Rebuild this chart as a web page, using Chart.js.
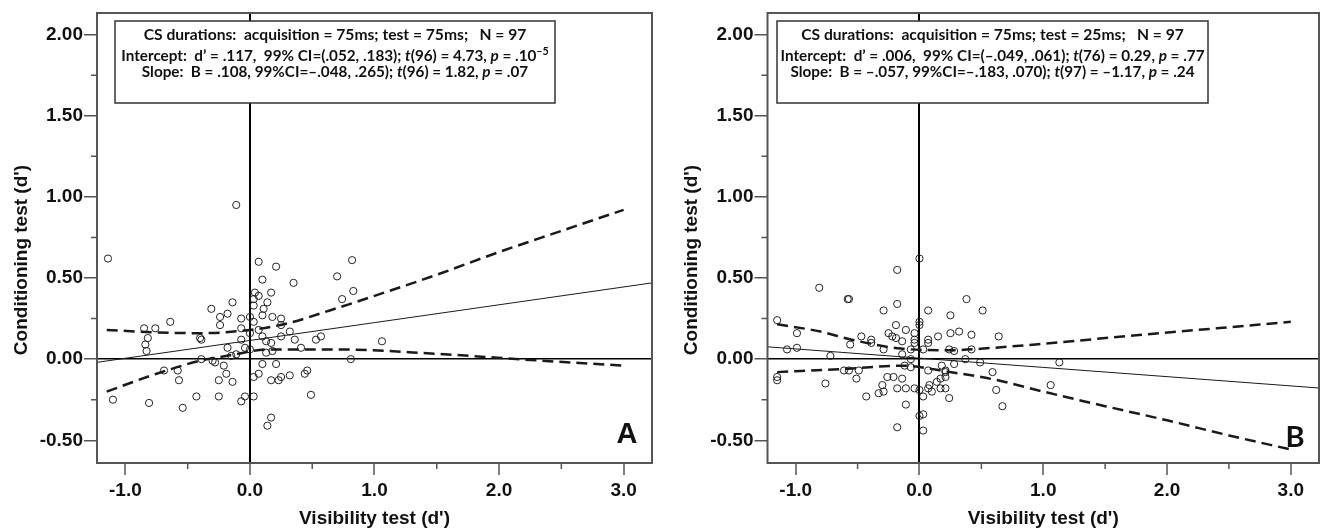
<!DOCTYPE html>
<html>
<head>
<meta charset="utf-8">
<script src="https://cdn.jsdelivr.net/npm/chart.js@4.4.1/dist/chart.umd.min.js"></script>
<style>
  html, body { margin: 0; padding: 0; background: #fff; }
  .panel { position: absolute; top: 0; width: 662px; height: 531px; }
  #panelA { left: 0; }
  #panelB { left: 662px; }
</style>
</head>
<body>
<div class="panel" id="panelA"><canvas id="chartA" width="662" height="531"></canvas></div>
<div class="panel" id="panelB"><canvas id="chartB" width="662" height="531"></canvas></div>
<script>
// axis ticks (major get labels, minor are short marks only)
const xMajor = [-1, 0, 1, 2, 3];
const xMinor = [-0.5, 0.5, 1.5, 2.5];
const yMajor = [-0.5, 0, 0.5, 1, 1.5, 2];
const yMinor = [-0.25, 0.25, 0.75, 1.25, 1.75];
const xTitle = "Visibility test (d')";
const yTitle = "Conditioning test (d')";

// panel A: CS 75ms / test 75ms
const pointsA = [
  [-1.14, 0.62], [0.07, 0.60], [0.21, 0.57], [0.70, 0.51], [0.10, 0.49], [0.35, 0.47], [0.04, 0.41],
  [0.17, 0.41], [0.07, 0.39], [0.03, 0.37], [0.14, 0.35], [-0.14, 0.35], [0.03, 0.33], [-0.31, 0.31],
  [0.11, 0.31], [-0.18, 0.28], [-0.24, 0.26], [0.00, 0.26], [0.18, 0.26], [-0.07, 0.25], [0.10, 0.27],
  [0.25, 0.25], [0.03, 0.23], [-0.64, 0.23], [-0.24, 0.21], [0.25, 0.21], [-0.85, 0.19], [-0.76, 0.19],
  [-0.07, 0.19], [0.07, 0.18], [0.32, 0.17], [0.00, 0.16], [0.10, 0.14], [-0.82, 0.13], [-0.40, 0.13],
  [-0.39, 0.12], [0.25, 0.14], [-0.07, 0.12], [0.36, 0.12], [0.13, 0.11], [0.17, 0.10], [0.57, 0.14],
  [0.53, 0.12], [-0.84, 0.09], [-0.83, 0.05], [-0.18, 0.07], [-0.04, 0.07], [0.00, 0.06], [0.41, 0.07],
  [0.13, 0.04], [0.18, 0.05], [-0.11, 0.03], [-0.15, 0.02], [-0.39, 0.00], [-0.30, -0.01], [-0.28, -0.02],
  [0.10, -0.03], [0.21, -0.03], [-0.69, -0.07], [-0.58, -0.07], [-0.21, -0.04], [-0.19, -0.09], [0.07, -0.09],
  [0.03, -0.11], [0.25, -0.11], [0.32, -0.10], [0.46, -0.07], [0.44, -0.09], [-0.57, -0.13], [-0.25, -0.13],
  [0.17, -0.13], [0.23, -0.13], [-0.14, -0.14], [-1.10, -0.25], [-0.81, -0.27], [-0.54, -0.30], [-0.43, -0.23],
  [-0.25, -0.23], [-0.07, -0.26], [-0.04, -0.23], [0.03, -0.23], [0.49, -0.22], [0.17, -0.36], [0.14, -0.41],
  [0.82, 0.61], [0.74, 0.37], [0.83, 0.42], [1.06, 0.11], [0.81, 0.00], [-0.11, 0.95]
];
const fitA = [[-1.23, -0.02], [3.23, 0.47]];
const upperA = [[-1.15, 0.18], [-0.75, 0.165], [-0.4, 0.16], [0, 0.18], [0.3, 0.22], [0.64, 0.30],
  [1.0, 0.39], [1.5, 0.52], [2.0, 0.66], [2.5, 0.79], [3.0, 0.92]];
const lowerA = [[-1.15, -0.2], [-0.75, -0.09], [-0.4, -0.01], [-0.15, 0.025], [0.15, 0.06], [0.7, 0.06],
  [1.45, 0.035], [2.25, -0.005], [3.0, -0.04]];
const notesA = [
  [['CS durations:  acquisition = 75ms; test = 75ms;   N = 97', '']],
  [['Intercept:  d\u2019 = .117,  99% CI=(.052, .183); ', ''], ['t', 'i'], ['(96) = 4.73, ', ''], ['p', 'i'], [' = .10', ''], ['\u20135', 'sup']],
  [['Slope:  B = .108, 99%CI=\u2013.048, .265); ', ''], ['t', 'i'], ['(96) = 1.82, ', ''], ['p', 'i'], [' = .07', '']]
];

// panel B: CS 75ms / test 25ms
const pointsB = [
  [0.00, 0.62], [-0.18, 0.55], [-0.81, 0.44], [-0.57, 0.37], [-0.58, 0.37], [0.38, 0.37], [-0.18, 0.34],
  [0.51, 0.30], [0.07, 0.30], [-0.29, 0.30], [0.25, 0.27], [-1.15, 0.24], [0.00, 0.23], [0.00, 0.21],
  [-0.19, 0.21], [-0.11, 0.18], [0.32, 0.17], [0.25, 0.16], [-0.25, 0.16], [-0.04, 0.16], [0.42, 0.15],
  [-0.99, 0.16], [-0.22, 0.14], [-0.19, 0.13], [-0.47, 0.14], [-0.39, 0.12], [-0.39, 0.10], [0.15, 0.14],
  [-0.04, 0.12], [0.07, 0.12], [0.07, 0.10], [-0.14, 0.11], [-0.04, 0.10], [-0.56, 0.09], [-1.07, 0.06],
  [-0.99, 0.07], [-0.29, 0.06], [-0.07, 0.06], [0.03, 0.06], [0.24, 0.06], [0.28, 0.05], [0.42, 0.06],
  [-0.14, 0.03], [-0.72, 0.02], [-0.07, 0.00], [0.37, 0.00], [0.49, -0.02], [0.28, -0.03], [-0.12, -0.04],
  [-0.07, -0.05], [0.18, -0.04], [-0.61, -0.07], [-0.57, -0.07], [-0.49, -0.07], [0.07, -0.07], [0.21, -0.07],
  [0.21, -0.08], [0.59, -0.08], [-1.15, -0.11], [-1.15, -0.13], [-0.26, -0.11], [-0.21, -0.11], [-0.51, -0.12],
  [-0.14, -0.12], [0.17, -0.12], [0.21, -0.11], [0.14, -0.14], [-0.76, -0.15], [-0.30, -0.16], [0.08, -0.16],
  [-0.33, -0.21], [-0.29, -0.20], [-0.18, -0.18], [-0.11, -0.18], [-0.04, -0.18], [0.00, -0.19], [0.07, -0.18],
  [0.10, -0.20], [0.17, -0.18], [0.21, -0.18], [0.03, -0.23], [-0.43, -0.23], [0.24, -0.24], [-0.11, -0.28],
  [0.00, -0.35], [0.03, -0.34], [-0.18, -0.42], [0.03, -0.44], [0.62, -0.19], [0.64, 0.14], [0.67, -0.29],
  [1.06, -0.16], [1.13, -0.02]
];
const fitB = [[-1.23, 0.076], [3.23, -0.178]];
const upperB = [[-1.15, 0.215], [-0.8, 0.17], [-0.55, 0.12], [-0.15, 0.065], [0.25, 0.055], [0.6, 0.07],
  [1.0, 0.095], [1.75, 0.147], [2.4, 0.19], [3.0, 0.23]];
const lowerB = [[-1.15, -0.08], [-0.55, -0.058], [-0.15, -0.04], [0.25, -0.08], [0.6, -0.125], [1.0, -0.2],
  [1.5, -0.29], [2.0, -0.377], [2.5, -0.47], [3.0, -0.557]];
const notesB = [
  [['CS durations:  acquisition = 75ms; test = 25ms;   N = 97', '']],
  [['Intercept:  d\u2019 = .006,  99% CI=(\u2013.049, .061); ', ''], ['t', 'i'], ['(76) = 0.29, ', ''], ['p', 'i'], [' = .77', '']],
  [['Slope:  B = \u2013.057, 99%CI=\u2013.183, .070); ', ''], ['t', 'i'], ['(97) = \u20131.17, ', ''], ['p', 'i'], [' = .24', '']]
];

const TEXT = '#111';
const AXIS = '#555';
const SANS = '"Liberation Sans", Arial, sans-serif';
const NOTE_FONT = 'Lato, "Open Sans", sans-serif';
Chart.defaults.font.family = SANS;

const toXY = (arr) => arr.map(([x, y]) => ({ x, y }));

function segFont(style, size) {
  const s = style === 'sup' ? size * 0.7 : size;
  return (style === 'i' ? 'italic ' : '') + 'bold ' + s.toFixed(2) + 'px ' + NOTE_FONT;
}
function lineW(ctx, segs, size) {
  return segs.reduce((w, [t, st]) => { ctx.font = segFont(st, size); return w + ctx.measureText(t).width; }, 0);
}
function drawLine(ctx, segs, size, x, base) {
  segs.forEach(([t, st]) => {
    ctx.font = segFont(st, size);
    ctx.fillText(t, x, st === 'sup' ? base - size * 0.38 : base);
    x += ctx.measureText(t).width;
  });
}

function overlay(cfg) {
  return {
    id: 'overlay',
    afterDraw(chart) {
      const { ctx, chartArea: a } = chart;
      const x = chart.scales.x, y = chart.scales.y;
      ctx.save();
      // minor ticks
      ctx.strokeStyle = AXIS;
      ctx.lineWidth = 1.5;
      ctx.beginPath();
      xMinor.forEach((v) => { const px = x.getPixelForValue(v); ctx.moveTo(px, a.bottom); ctx.lineTo(px, a.bottom + 6); });
      yMinor.forEach((v) => { const py = y.getPixelForValue(v); ctx.moveTo(a.left - 6, py); ctx.lineTo(a.left, py); });
      ctx.stroke();
      // frame
      ctx.lineWidth = 2;
      ctx.strokeRect(a.left, a.top, a.right - a.left, a.bottom - a.top);

      // y axis title, centred a little below the plot middle as in the original
      ctx.fillStyle = TEXT;
      ctx.font = 'bold 19px ' + SANS;
      ctx.textAlign = 'center';
      ctx.textBaseline = 'middle';
      ctx.save();
      ctx.translate(cfg.yTitleX, 260);
      ctx.rotate(-Math.PI / 2);
      ctx.fillText(yTitle, 0, 0);
      ctx.restore();

      // stats box
      const bx = 115, by = 21, bw = cfg.boxWidth, bh = 82;
      ctx.fillStyle = '#fff';
      ctx.fillRect(bx, by, bw, bh);
      ctx.strokeStyle = '#333';
      ctx.lineWidth = 1.5;
      ctx.strokeRect(bx, by, bw, bh);
      const s1 = 20 * 383 / lineW(ctx, notesA[0], 20);
      const s2 = 20 * 428 / lineW(ctx, notesA[1], 20);
      const bases = [40, 61, 77];
      ctx.fillStyle = TEXT;
      ctx.textBaseline = 'alphabetic';
      ctx.textAlign = 'left';
      cfg.notes.forEach((segs, i) => {
        const size = i === 0 ? s1 : s2;
        const w = lineW(ctx, segs, size);
        drawLine(ctx, segs, size, bx + bw / 2 - w / 2, bases[i]);
      });

      // panel letter
      ctx.font = cfg.letterFont;
      ctx.textAlign = 'center';
      ctx.fillText(cfg.letter, cfg.letterX, cfg.letterY);
      ctx.restore();
    }
  };
}

function lineSet(data, dashed) {
  return {
    type: 'line',
    data: toXY(data),
    borderColor: '#1a1a1a',
    borderWidth: dashed ? 2.5 : 1,
    borderDash: dashed ? [11, 6] : [],
    cubicInterpolationMode: 'monotone',
    pointRadius: 0,
    fill: false
  };
}

function build(id, cfg) {
  const tickFont = { family: SANS, size: 19, weight: 'bold' };
  return new Chart(document.getElementById(id), {
    type: 'scatter',
    data: {
      datasets: [
        lineSet(cfg.fit, false),
        lineSet(cfg.upper, true),
        lineSet(cfg.lower, true),
        {
          type: 'scatter',
          data: toXY(cfg.points),
          pointRadius: 3.6,
          pointBorderWidth: 1,
          pointBorderColor: '#222',
          pointBackgroundColor: 'rgba(0,0,0,0)'
        }
      ]
    },
    options: {
      responsive: false,
      animation: false,
      events: [],
      layout: { padding: { top: 13, right: cfg.padRight, left: 0, bottom: 0 } },
      plugins: { legend: { display: false }, tooltip: { enabled: false } },
      scales: {
        x: {
          type: 'linear',
          min: -1.228,
          max: 3.228,
          afterBuildTicks: (s) => { s.ticks = xMajor.map((v) => ({ value: v })); },
          afterFit: (s) => { s.height = 68; },
          ticks: { callback: (v) => Number(v).toFixed(1), font: tickFont, color: TEXT, padding: 4, maxRotation: 0, autoSkip: false },
          grid: {
            color: (c) => (c.tick && c.tick.value === 0 ? '#000' : 'rgba(0,0,0,0)'),
            lineWidth: 2,
            tickColor: AXIS,
            tickWidth: 1.5,
            tickLength: 12
          },
          border: { display: false },
          title: { display: true, text: xTitle, font: tickFont, color: TEXT, padding: { top: 0, bottom: 1 } }
        },
        y: {
          type: 'linear',
          min: -0.64,
          max: 2.133,
          afterBuildTicks: (s) => { s.ticks = yMajor.map((v) => ({ value: v })); },
          afterFit: (s) => { s.width = cfg.axisWidth; },
          ticks: { callback: (v) => Number(v).toFixed(2), font: tickFont, color: TEXT, padding: 1, autoSkip: false },
          grid: {
            color: (c) => (c.tick && c.tick.value === 0 ? '#000' : 'rgba(0,0,0,0)'),
            lineWidth: 1.5,
            tickColor: AXIS,
            tickWidth: 1.5,
            tickLength: 13
          },
          border: { display: false },
          title: { display: false }
        }
      }
    },
    plugins: [overlay(cfg)]
  });
}

build('chartA', {
  points: pointsA, fit: fitA, upper: upperA, lower: lowerA, notes: notesA,
  axisWidth: 97, padRight: 10, yTitleX: 22, boxWidth: 440,
  letter: 'A', letterFont: 'bold 29px ' + SANS, letterX: 627, letterY: 443
});
build('chartB', {
  points: pointsB, fit: fitB, upper: upperB, lower: lowerB, notes: notesB,
  axisWidth: 105.5, padRight: 2, yTitleX: 30, boxWidth: 431,
  letter: 'B', letterFont: 'bold 29px ' + NOTE_FONT, letterX: 633, letterY: 447
});
</script>
</body>
</html>
